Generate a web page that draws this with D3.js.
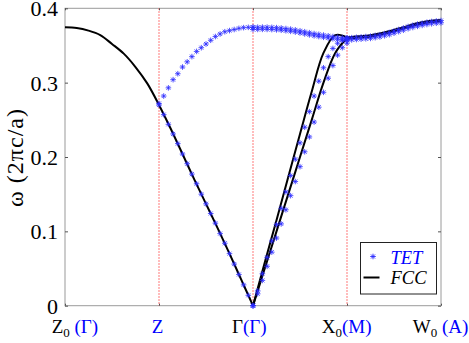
<!DOCTYPE html>
<html>
<head>
<meta charset="utf-8">
<script src="https://cdn.jsdelivr.net/npm/d3@7"></script>
<style>
  body { margin: 0; background: #fff; }
</style>
</head>
<body>
<svg id="chart" width="469" height="343"></svg>
<script>
// high-symmetry points along the path (index = position on x axis)
const kPoints = [0, 1, 2, 3, 4];
const kNames = [
    { main: "Z", sub: "0", tet: " (\u0393)" },
    { main: "", sub: "", tet: "Z" },
    { main: "\u0393", sub: "", tet: "(\u0393)" },
    { main: "X", sub: "0", tet: "(M)" },
    { main: "W", sub: "0", tet: " (A)" }
];
const yTicks = [0, 0.1, 0.2, 0.3, 0.4];

// FCC bands, sampled every 1/8 of a segment
const fccZ0toGamma = [0.3745, 0.3735, 0.370, 0.364, 0.352, 0.339, 0.321, 0.299, 0.270,
                      0.238, 0.204, 0.170, 0.137, 0.104, 0.070, 0.035, 0.0];
const fccGammaToX0a = [0.0, 0.058, 0.115, 0.173, 0.231, 0.288, 0.340, 0.364, 0.361];
const fccGammaToX0b = [0.0, 0.050, 0.100, 0.150, 0.200, 0.250, 0.300, 0.340, 0.360];
const fccX0toW0 = [0.360, 0.3615, 0.363, 0.366, 0.370, 0.3745, 0.379, 0.382, 0.3835];

// TET bands, sampled every 1/20 of a segment
const tetZtoGammaLow = [0.270, 0.257, 0.244, 0.231, 0.218, 0.204, 0.191, 0.177, 0.164, 0.150, 0.137,
                        0.124, 0.111, 0.097, 0.084, 0.070, 0.056, 0.042, 0.028, 0.014, 0.0];
const tetZtoGammaUp = [0.272, 0.282, 0.293, 0.304, 0.312, 0.321, 0.328, 0.335, 0.342, 0.347, 0.352,
                       0.357, 0.362, 0.3655, 0.3685, 0.370, 0.3715, 0.373, 0.374, 0.3744, 0.3745];
const tetGammaToX0Up = [0.3745, 0.3746, 0.3747, 0.3746, 0.3744, 0.3740, 0.3735, 0.3728, 0.3720, 0.3710, 0.3698,
                        0.3685, 0.3672, 0.3660, 0.3650, 0.3640, 0.3630, 0.3620, 0.3612, 0.3606, 0.3602];
const tetGammaToX0Up2 = [0.3715, 0.3716, 0.3717, 0.3716, 0.3714, 0.3710, 0.3705, 0.3698, 0.3690, 0.3680, 0.3668,
                         0.3655, 0.3642, 0.3630, 0.3620, 0.3610, 0.3600, 0.3590, 0.3582, 0.3576, 0.3572];
const tetGammaToX0a = [0.0, 0.020, 0.043, 0.065, 0.087, 0.109, 0.131, 0.153, 0.175, 0.197, 0.219,
                       0.240, 0.261, 0.282, 0.302, 0.320, 0.335, 0.346, 0.353, 0.357, 0.359];
const tetGammaToX0b = [0.0, 0.016, 0.034, 0.053, 0.072, 0.091, 0.110, 0.129, 0.148, 0.167, 0.187,
                       0.207, 0.227, 0.247, 0.267, 0.287, 0.306, 0.323, 0.337, 0.347, 0.353];
const tetX0toW0 = [0.3600, 0.3605, 0.3610, 0.3615, 0.3620, 0.3625, 0.3635, 0.3645, 0.3660, 0.3675, 0.3695,
                   0.3715, 0.3735, 0.3755, 0.3772, 0.3787, 0.3800, 0.3812, 0.3822, 0.3829, 0.3835];
const tetX0toW0b = [0.3570, 0.3575, 0.3580, 0.3585, 0.3590, 0.3595, 0.3605, 0.3615, 0.3630, 0.3645, 0.3665,
                    0.3685, 0.3705, 0.3725, 0.3742, 0.3757, 0.3770, 0.3782, 0.3792, 0.3799, 0.3805];

const svg = d3.select("#chart");
const margin = { left: 65, right: 28, top: 8.3, bottom: 37.3 };
const width = +svg.attr("width");
const height = +svg.attr("height");
const serif = "'Liberation Serif', 'Times New Roman', serif";

const x = d3.scaleLinear().domain([0, 4]).range([margin.left, width - margin.right]);
const y = d3.scaleLinear().domain([0, 0.4]).range([height - margin.bottom, margin.top]);

// helper: turn a band (start position + values + step) into points
function band(start, values, step) {
    return values.map((v, i) => ({ k: start + i * step, w: v }));
}

const fccBands = [
    { pts: band(0, fccZ0toGamma, 0.125), w: 2 },
    { pts: band(2, fccGammaToX0a, 0.125), w: 2 },
    { pts: band(2, fccGammaToX0b, 0.125), w: 2 },
    { pts: band(3, fccX0toW0, 0.125), w: 3.2 }
];
const tetBands = [
    band(1, tetZtoGammaLow, 0.05),
    band(1, tetZtoGammaUp, 0.05),
    band(2, tetGammaToX0Up, 0.05),
    band(2, tetGammaToX0Up2, 0.05),
    band(2, tetGammaToX0a, 0.05),
    band(2, tetGammaToX0b, 0.05),
    band(3, tetX0toW0, 0.05),
    band(3, tetX0toW0b, 0.05)
];

const axisColor = "#9a9a9a";

// box
svg.append("rect")
    .attr("x", x(0)).attr("y", y(0.4))
    .attr("width", x(4) - x(0)).attr("height", y(0) - y(0.4))
    .attr("fill", "none").attr("stroke", axisColor).attr("stroke-width", 1);

// red dotted guides at Z, Gamma, X0
svg.selectAll("line.guide")
    .data(kPoints.slice(1, 4))
    .enter()
    .append("line")
    .attr("class", "guide")
    .attr("x1", d => x(d)).attr("x2", d => x(d))
    .attr("y1", y(0.4)).attr("y2", y(0))
    .attr("stroke", "#ff6a6a")
    .attr("stroke-width", 1.2)
    .attr("stroke-dasharray", "1.5,1.5");

// tick marks (inside, on all four sides)
const yAxisL = d3.axisLeft(y).tickValues(yTicks).tickSize(-3).tickFormat("");
const yAxisR = d3.axisRight(y).tickValues(yTicks).tickSize(-3).tickFormat("");
const xAxisB = d3.axisBottom(x).tickValues(kPoints).tickSize(-2).tickFormat("");
const xAxisT = d3.axisTop(x).tickValues(kPoints).tickSize(-2).tickFormat("");
[[yAxisL, `translate(${x(0)},0)`], [yAxisR, `translate(${x(4)},0)`],
 [xAxisB, `translate(0,${y(0)})`], [xAxisT, `translate(0,${y(0.4)})`]].forEach(([ax, tr]) => {
    const g = svg.append("g").attr("transform", tr).call(ax);
    g.select(".domain").remove();
    g.selectAll("line").attr("stroke", "#555");
});

// y tick labels
svg.selectAll("text.ylab")
    .data(yTicks)
    .enter()
    .append("text")
    .attr("class", "ylab")
    .attr("x", x(0) - 7)
    .attr("y", d => y(d) + 8)
    .attr("text-anchor", "end")
    .attr("font-size", 22)
    .style("font-family", serif)
    .text(d => d === 0 ? "0" : d.toFixed(1));

// x tick labels: FCC names in black, TET names in blue
const labelX = [51.7, 151.7, 232, 321.7, 412.7];
kNames.forEach((n, i) => {
    const t = svg.append("text")
        .attr("x", labelX[i])
        .attr("y", 333)
        .attr("font-size", 19)
        .style("font-family", serif);
    if (n.main) t.append("tspan").attr("fill", "#000").text(n.main);
    if (n.sub) t.append("tspan").attr("fill", "#000").attr("font-size", 13).attr("dy", 4).text(n.sub);
    t.append("tspan").attr("fill", "#0000ff").attr("dy", n.sub ? -4 : 0).text(n.tet);
});

// y axis label
svg.append("text")
    .attr("transform", `translate(23,158) rotate(-90)`)
    .attr("text-anchor", "middle")
    .attr("font-size", 24)
    .attr("textLength", 98)
    .attr("lengthAdjust", "spacing")
    .style("font-family", serif)
    .text("\u03c9 (2\u03c0c/a)");

// FCC lines
const line = d3.line().x(d => x(d.k)).y(d => y(d.w)).curve(d3.curveCatmullRom);
svg.selectAll("path.fcc")
    .data(fccBands)
    .enter()
    .append("path")
    .attr("class", "fcc")
    .attr("d", d => line(d.pts))
    .attr("fill", "none")
    .attr("stroke", "#000")
    .attr("stroke-width", d => d.w);

// TET stars
const star = "M-2.8,0H2.8M0,-2.8V2.8M-2,-2L2,2M-2,2L2,-2";
svg.selectAll("path.tet")
    .data(tetBands.flat())
    .enter()
    .append("path")
    .attr("class", "tet")
    .attr("transform", d => `translate(${x(d.k)},${y(d.w)})`)
    .attr("d", star)
    .attr("fill", "none")
    .attr("stroke", "#2a2aff")
    .attr("stroke-width", 0.8);

// legend
const legend = svg.append("g").attr("transform", "translate(360.5,242.5)");
legend.append("rect")
    .attr("width", 76).attr("height", 51.5)
    .attr("fill", "#fff").attr("stroke", "#222").attr("stroke-width", 1);
legend.append("path")
    .attr("transform", "translate(12.5,14)")
    .attr("d", star)
    .attr("fill", "none").attr("stroke", "#2a2aff").attr("stroke-width", 0.9);
legend.append("text")
    .attr("x", 30).attr("y", 21)
    .attr("font-size", 18.5).attr("font-style", "italic")
    .style("font-family", serif)
    .attr("fill", "#0000ff").text("TET");
legend.append("line")
    .attr("x1", 3).attr("x2", 19).attr("y1", 35).attr("y2", 35)
    .attr("stroke", "#000").attr("stroke-width", 2);
legend.append("text")
    .attr("x", 30).attr("y", 41)
    .attr("font-size", 18.5).attr("font-style", "italic")
    .style("font-family", serif)
    .attr("fill", "#000").text("FCC");
</script>
</body>
</html>
